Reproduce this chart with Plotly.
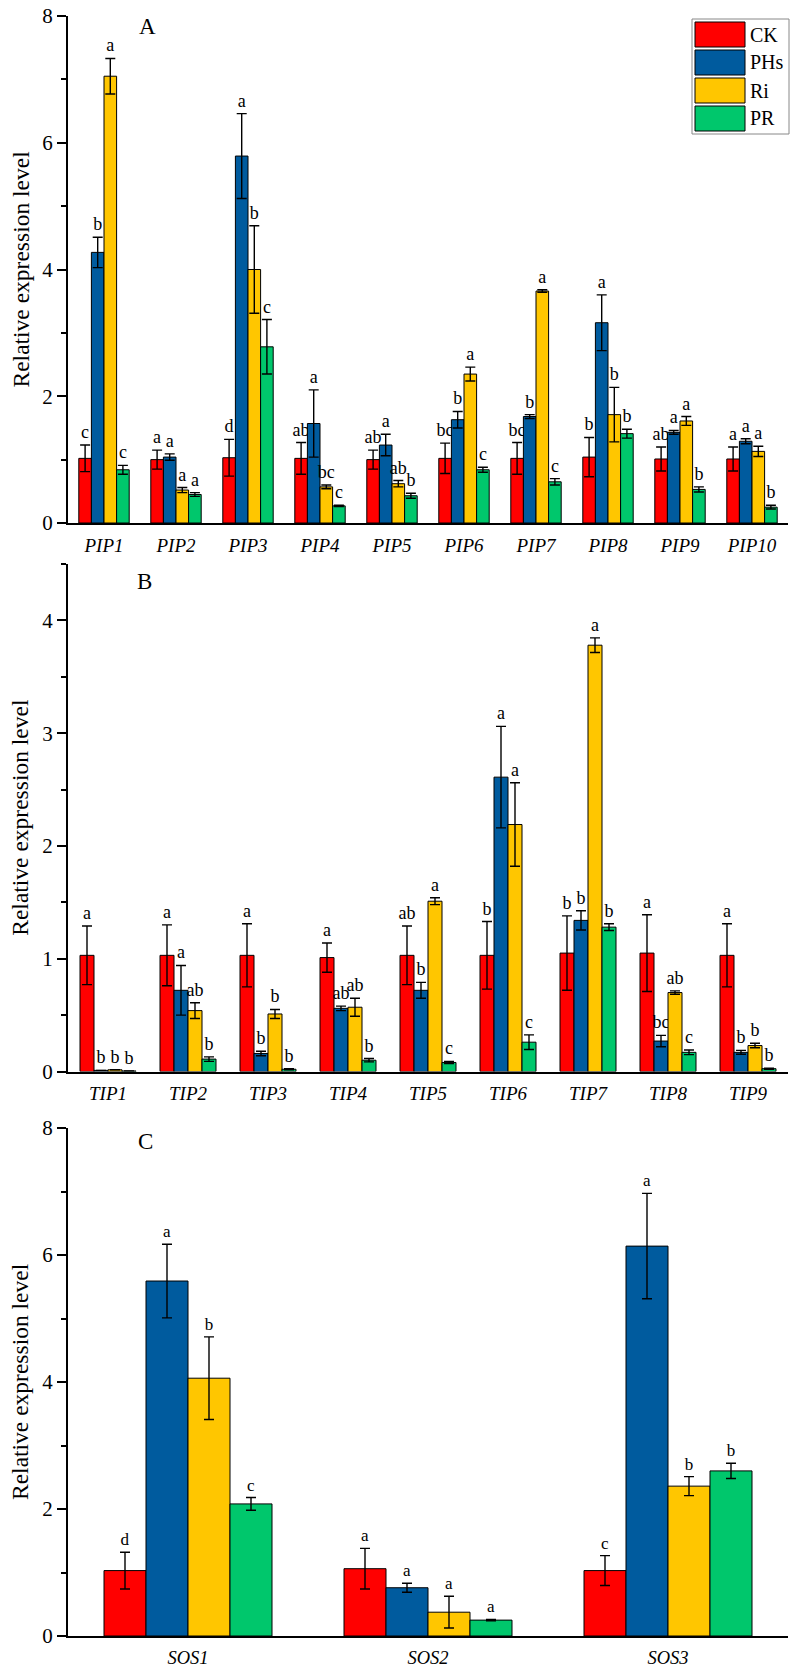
import plotly.graph_objects as go

W, H = 797, 1673
FONT = "Liberation Serif"

NAMES = ["CK", "PHs", "Ri", "PR"]
COLORS = ["#FF0000", "#005B9E", "#FFC600", "#00C76C"]

# panel A - PIP genes
pip_genes = ["PIP1", "PIP2", "PIP3", "PIP4", "PIP5", "PIP6", "PIP7", "PIP8", "PIP9", "PIP10"]
pip_ck = [1.02, 1.00, 1.03, 1.02, 1.00, 1.02, 1.02, 1.04, 1.01, 1.01]
pip_phs = [4.27, 1.04, 5.79, 1.57, 1.23, 1.63, 1.68, 3.16, 1.43, 1.29]
pip_ri = [7.05, 0.52, 4.00, 0.57, 0.62, 2.35, 3.66, 1.71, 1.61, 1.13]
pip_pr = [0.84, 0.45, 2.78, 0.27, 0.43, 0.84, 0.65, 1.41, 0.53, 0.25]
pip_ck_err = [0.21, 0.15, 0.29, 0.25, 0.15, 0.24, 0.25, 0.31, 0.19, 0.19]
pip_phs_err = [0.24, 0.05, 0.67, 0.53, 0.17, 0.13, 0.03, 0.44, 0.03, 0.04]
pip_ri_err = [0.28, 0.04, 0.69, 0.03, 0.05, 0.11, 0.02, 0.43, 0.07, 0.08]
pip_pr_err = [0.07, 0.03, 0.43, 0.01, 0.04, 0.04, 0.05, 0.07, 0.04, 0.03]
pip_ck_sig = ["c", "a", "d", "ab", "ab", "bc", "bc", "b", "ab", "a"]
pip_phs_sig = ["b", "a", "a", "a", "a", "b", "b", "a", "a", "a"]
pip_ri_sig = ["a", "a", "b", "bc", "ab", "a", "a", "b", "a", "a"]
pip_pr_sig = ["c", "a", "c", "c", "b", "c", "c", "b", "b", "b"]

# panel B - TIP genes
tip_genes = ["TIP1", "TIP2", "TIP3", "TIP4", "TIP5", "TIP6", "TIP7", "TIP8", "TIP9"]
tip_ck = [1.03, 1.03, 1.03, 1.01, 1.03, 1.03, 1.05, 1.05, 1.03]
tip_phs = [0.01, 0.72, 0.16, 0.56, 0.72, 2.61, 1.34, 0.27, 0.17]
tip_ri = [0.015, 0.54, 0.51, 0.57, 1.51, 2.19, 3.78, 0.70, 0.23]
tip_pr = [0.005, 0.11, 0.02, 0.10, 0.08, 0.26, 1.28, 0.17, 0.025]
tip_ck_err = [0.26, 0.27, 0.28, 0.13, 0.26, 0.30, 0.33, 0.34, 0.28]
tip_phs_err = [0.0, 0.22, 0.02, 0.02, 0.07, 0.45, 0.085, 0.05, 0.017]
tip_ri_err = [0.0, 0.07, 0.04, 0.08, 0.03, 0.37, 0.065, 0.015, 0.02]
tip_pr_err = [0.0, 0.02, 0.005, 0.015, 0.01, 0.065, 0.03, 0.02, 0.005]
tip_ck_sig = ["a", "a", "a", "a", "ab", "b", "b", "a", "a"]
tip_phs_sig = ["b", "a", "b", "ab", "b", "a", "b", "bc", "b"]
tip_ri_sig = ["b", "ab", "b", "ab", "a", "a", "a", "ab", "b"]
tip_pr_sig = ["b", "b", "b", "b", "c", "c", "b", "c", "b"]

# panel C - SOS genes
sos_genes = ["SOS1", "SOS2", "SOS3"]
sos_ck = [1.03, 1.06, 1.03]
sos_phs = [5.59, 0.76, 6.14]
sos_ri = [4.06, 0.375, 2.36]
sos_pr = [2.08, 0.25, 2.60]
sos_ck_err = [0.29, 0.32, 0.235]
sos_phs_err = [0.58, 0.07, 0.83]
sos_ri_err = [0.65, 0.25, 0.15]
sos_pr_err = [0.10, 0.01, 0.12]
sos_ck_sig = ["d", "a", "c"]
sos_phs_sig = ["a", "a", "a"]
sos_ri_sig = ["b", "a", "b"]
sos_pr_sig = ["c", "a", "b"]


def px(x):
    return x / W


def py(y):
    return 1 - y / H


panels = [
    ("", pip_genes, [pip_ck, pip_phs, pip_ri, pip_pr],
     [pip_ck_err, pip_phs_err, pip_ri_err, pip_pr_err],
     [pip_ck_sig, pip_phs_sig, pip_ri_sig, pip_pr_sig], 18),
    ("2", tip_genes, [tip_ck, tip_phs, tip_ri, tip_pr],
     [tip_ck_err, tip_phs_err, tip_ri_err, tip_pr_err],
     [tip_ck_sig, tip_phs_sig, tip_ri_sig, tip_pr_sig], 18),
    ("3", sos_genes, [sos_ck, sos_phs, sos_ri, sos_pr],
     [sos_ck_err, sos_phs_err, sos_ri_err, sos_pr_err],
     [sos_ck_sig, sos_phs_sig, sos_ri_sig, sos_pr_sig], 17),
]

fig = go.Figure()
for suffix, genes, vals, errs, sigs, sig_size in panels:
    for i, name in enumerate(NAMES):
        tops = [v + e for v, e in zip(vals[i], errs[i])]
        # invisible bar reaching the top of the error bar, carries the letter
        fig.add_trace(go.Bar(
            x=genes, y=tops, text=sigs[i], textposition="outside",
            constraintext="none", cliponaxis=False,
            textfont=dict(family=FONT, size=sig_size, color="black"),
            marker=dict(color="rgba(0,0,0,0)", line=dict(width=0)),
            offsetgroup=name, showlegend=False, hoverinfo="skip",
            xaxis="x" + suffix, yaxis="y" + suffix,
        ))
        fig.add_trace(go.Bar(
            x=genes, y=vals[i], name=name, offsetgroup=name,
            marker=dict(color=COLORS[i], line=dict(color="black", width=1)),
            error_y=dict(type="data", array=errs[i], color="black",
                         thickness=1.4, width=5),
            showlegend=False, xaxis="x" + suffix, yaxis="y" + suffix,
        ))

# pixel rows of each panel: (top of y range, zero line)
rows = [(16, 523), (564, 1071.5), (1128, 1636)]
xdom = [px(68), px(788)]
yranges = [[0, 8], [0, 4.5], [0, 8]]
ydt = [2, 1, 2]
ymin = [1, 0.5, 1]

layout = dict(
    width=W, height=H, margin=dict(l=0, r=0, t=0, b=0),
    paper_bgcolor="white", plot_bgcolor="white",
    barmode="group", bargap=0.3, bargroupgap=0,
    font=dict(family=FONT, color="black"),
)
for k in range(3):
    s = "" if k == 0 else str(k + 1)
    top, zero = rows[k]
    layout["xaxis" + s] = dict(
        domain=xdom, anchor="y" + s, type="category",
        showline=True, linecolor="black", linewidth=2, ticks="",
        showgrid=False, zeroline=False, automargin=False,
        ticklabelstandoff=4, ticklabeloverflow="allow",
        tickfont=dict(family=FONT, size=19 if k < 2 else 18.5,
                      style="italic", color="black"),
    )
    layout["yaxis" + s] = dict(
        domain=[py(zero), py(top)], anchor="x" + s, range=yranges[k],
        dtick=ydt[k],
        showline=True, linecolor="black", linewidth=2,
        ticks="outside", ticklen=9, tickwidth=1.5, tickcolor="black",
        minor=dict(dtick=ymin[k], ticks="outside", ticklen=5,
                   tickwidth=1.5, tickcolor="black"),
        showgrid=False, zeroline=False, automargin=False,
        ticklabeloverflow="allow",
        tickfont=dict(family=FONT, size=21, color="black"),
    )
fig.update_layout(**layout)

annotations = []
shapes = []
# y-axis titles and panel letters
for top, zero in rows:
    annotations.append(dict(
        text="Relative expression level", xref="paper", yref="paper",
        x=px(20), y=py((top + zero) / 2), textangle=-90, showarrow=False,
        font=dict(family=FONT, size=23.5, color="black"),
        xanchor="center", yanchor="middle",
    ))
for label, (lx, ly) in zip(["A", "B", "C"], [(147, 26), (144, 581), (145, 1141)]):
    annotations.append(dict(
        text=label, xref="paper", yref="paper", x=px(lx), y=py(ly),
        showarrow=False, font=dict(family=FONT, size=23, color="black"),
        xanchor="center", yanchor="middle",
    ))

# legend box
shapes.append(dict(type="rect", xref="paper", yref="paper",
                   x0=px(692), x1=px(789), y0=py(134), y1=py(19),
                   line=dict(color="#888888", width=1), fillcolor="white"))
for i, name in enumerate(NAMES):
    top = 22 + 28 * i
    shapes.append(dict(type="rect", xref="paper", yref="paper",
                       x0=px(695), x1=px(745), y0=py(top + 25), y1=py(top),
                       line=dict(color="black", width=1), fillcolor=COLORS[i]))
    annotations.append(dict(
        text=name, xref="paper", yref="paper", x=px(748), y=py(top + 12.5),
        showarrow=False, font=dict(family=FONT, size=20, color="black"),
        xanchor="left", yanchor="middle",
    ))

fig.update_layout(annotations=annotations, shapes=shapes)
# drop the default body margin so the figure fills the window exactly
fig.write_html("out.html", config={"displayModeBar": False},
               post_script="document.body.style.margin = '0';")
